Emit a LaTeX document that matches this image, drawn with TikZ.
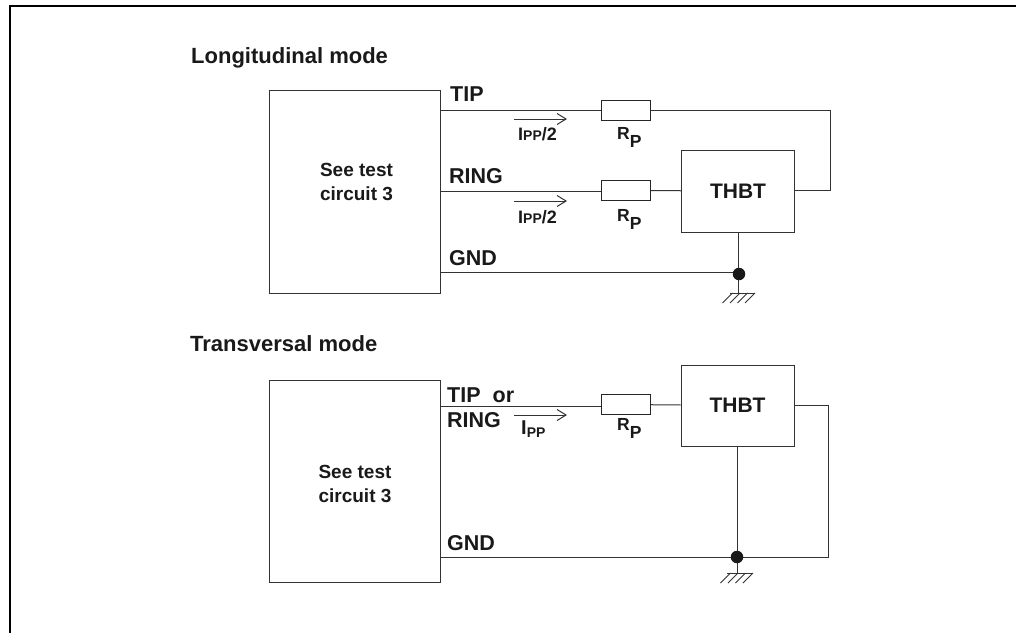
\documentclass[tikz,border=0pt]{standalone}
\usepackage{fontspec}
\setmainfont{Liberation Sans}
\usepackage{tikz}
\usetikzlibrary{arrows.meta}
\tikzstyle{block} = [rectangle, draw=black!80, line width=1pt, inner sep=0pt, text=black!90]
\tikzstyle{res} = [rectangle, draw=black!85, line width=1pt, minimum width=49pt, minimum height=20pt, inner sep=0pt]
\tikzstyle{lab} = [inner sep=0pt, anchor=base west, font=\fontsize{21.5}{25}\selectfont\bfseries, text=black!90]
\tikzstyle{rlab} = [lab, font=\fontsize{17.5}{20}\selectfont\bfseries]
\tikzstyle{ilab} = [lab, font=\fontsize{18}{20}\selectfont\bfseries]
\tikzstyle{seelab} = [inner sep=0pt, anchor=north, align=center, font=\fontsize{19}{24}\selectfont\bfseries, text=black!90]
\tikzstyle{wire} = [line width=1pt, draw=black!80]
\tikzstyle{arrow} = [line width=1pt, draw=black!80, -{Straight Barb[length=9pt,width=11pt]}]
\tikzstyle{hatch} = [line width=.9pt, draw=black!80]
\tikzstyle{dot} = [circle, fill=black!90, minimum size=12.5pt, inner sep=0pt]
\newcommand{\subP}[1]{\raisebox{-8pt}{#1}}

\begin{document}
\begin{tikzpicture}[x=1pt,y=-1pt]
        \useasboundingbox (0,0) rectangle (1016,633);
        \draw [line width=2pt, black] (10,633) -- (10,5.5) -- (1016,5.5);

        % longitudinal mode
        \node (title1) [lab, font=\fontsize{22}{26}\selectfont\bfseries] at (191,63) {Longitudinal mode};
        \node (box1) [block, minimum width=171pt, minimum height=203pt] at (354.5,191.5) {};
        \node (see1) [seelab] at (356.5,163) {See test\\circuit 3};
        \node (r1) [res] at (625.5,110.5) {};
        \node (r2) [res] at (626,190.5) {};
        \node (thbt1) [block, minimum width=113pt, minimum height=82pt, font=\fontsize{21}{25}\selectfont\bfseries] at (738,191) {THBT};
        \coordinate (g1) at (738.5,293);
        \coordinate (tip1) at (440,110.5);
        \coordinate (ring1) at (440,191);
        \coordinate (gnd1) at (440,272);
        \coordinate (c1) at (830,110);
        \coordinate (c2) at (830,190);

        \draw [wire] (tip1) -- (r1.west |- tip1);
        \draw [wire] (ring1) -- (r2.west |- ring1);
        \draw [wire] (gnd1) -- (gnd1 -| g1);
        \draw [wire] (r2) -- (thbt1);
        \draw [wire] (r1.east |- c1) -- (c1) -- (c2) -- (thbt1.east |- c2);
        \draw [wire] (thbt1.south -| g1) -- (g1);
        \draw [wire] (730,293) -- (755,293);
        \foreach \x in {0,7.5,15,22.5} {
            \draw [hatch] (755-\x,293) -- (745-\x,303);
        }
        \node (dot1) [dot] at (739,274) {};

        \draw [arrow] (514,119) -- (567,119);
        \draw [arrow] (514,201) -- (567,201);
        \node (tipl1) [lab] at (450,101) {TIP};
        \node (ringl1) [lab] at (449,183.5) {RING};
        \node (gndl1) [lab] at (449,265) {GND};
        \node (i1) [ilab] at (518,140) {I{\fontsize{14}{16}\selectfont PP}/2};
        \node (i2) [ilab] at (518,223) {I{\fontsize{14}{16}\selectfont PP}/2};
        \node (rp1) [rlab] at (617,139) {R\subP{P}};
        \node (rp2) [rlab] at (617,221) {R\subP{P}};

        % transversal mode
        \node (title2) [lab, font=\fontsize{22}{26}\selectfont\bfseries] at (190,351) {Transversal mode};
        \node (box2) [block, minimum width=171pt, minimum height=202pt] at (354.5,481) {};
        \node (see2) [seelab] at (355,465) {See test\\circuit 3};
        \node (r3) [res] at (626,404.5) {};
        \node (thbt2) [block, minimum width=113pt, minimum height=81pt, font=\fontsize{21}{25}\selectfont\bfseries] at (737.5,405.5) {THBT};
        \coordinate (g2) at (737,573);
        \coordinate (tip2) at (440,406.5);
        \coordinate (gnd2) at (440,557);
        \coordinate (c3) at (828,405);
        \coordinate (c4) at (828,557);

        \draw [wire] (tip2) -- (r3.west |- tip2);
        \draw [wire] (r3) -- (thbt2);
        \draw [wire] (thbt2.east |- c3) -- (c3) -- (c4) -- (gnd2);
        \draw [wire] (thbt2.south -| g2) -- (g2);
        \draw [wire] (727,573) -- (753,573);
        \foreach \x in {0,7.5,15,22.5} {
            \draw [hatch] (753-\x,573) -- (743-\x,583);
        }
        \node (dot2) [dot] at (737,557) {};

        \draw [arrow] (514,415) -- (567,415);
        \node (tipl2) [lab] at (447,402.5) {TIP\hspace{6pt} or};
        \node (ringl2) [lab] at (447,427) {RING};
        \node (gndl2) [lab] at (447,550.5) {GND};
        \node (i3) [ilab, font=\fontsize{20}{22}\selectfont\bfseries] at (521,434) {I\raisebox{-3pt}{\fontsize{14}{16}\selectfont PP}};
        \node (rp3) [rlab] at (617,430) {R\subP{P}};
    \end{tikzpicture}
\end{document}
